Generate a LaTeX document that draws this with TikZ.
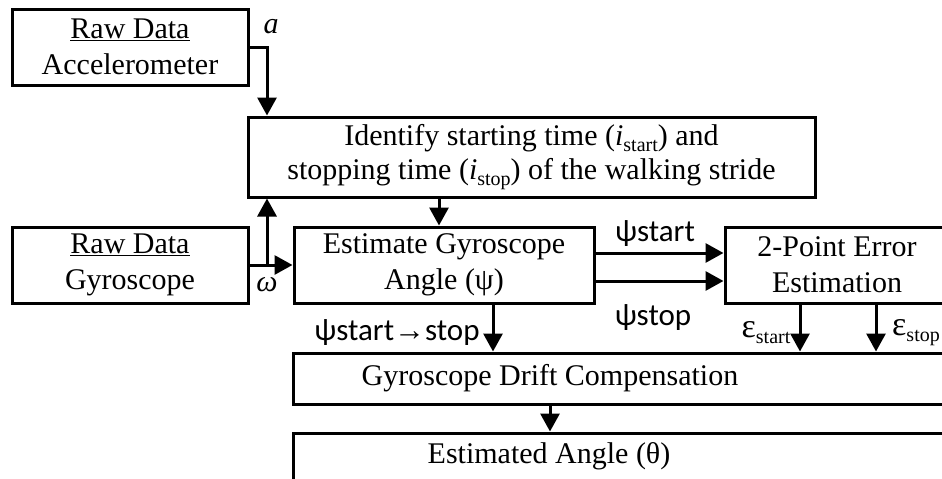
\documentclass[tikz,border=0pt]{standalone}
\usepackage{fontspec}
\setmainfont{Liberation Serif}
\newfontfamily\calib{Carlito}
\usetikzlibrary{arrows.meta,calc}
\newcommand{\lowsub}[1]{\raisebox{-6pt}{\fontsize{20}{20}\selectfont #1}}
\newcommand{\epsbig}{{\fontsize{34}{34}\selectfont ε}}

\begin{document}
\begin{tikzpicture}[x=1pt,y=-1pt,
  line width=3pt,
  >={Triangle[length=18pt,width=19pt]},
  box/.style={draw,line width=3pt,inner sep=0pt,align=center,
    font=\fontsize{30}{36}\selectfont},
  lbl/.style={inner sep=0pt,font=\fontsize{30}{36}\selectfont},
  plbl/.style={inner sep=0pt,font=\calib\fontsize{31}{33}\selectfont}]

\useasboundingbox (0,0) rectangle (942,479);
\clip (0,0) rectangle (942,479);

% processing blocks
\node[box,minimum width=236pt,minimum height=76pt] (acc) at (130,47)
  {\underline{Raw Data}\\Accelerometer};
\node[box,minimum width=567pt,minimum height=80pt,
      font=\fontsize{30}{34}\selectfont] (ident) at (531.5,157)
  {Identify starting time (\textit{i}\lowsub{start}) and\\
   stopping time (\textit{i}\lowsub{stop}) of the walking stride};
\node[box,minimum width=236pt,minimum height=76pt] (gyro) at (130,265)
  {\underline{Raw Data}\\Gyroscope};
\node[box,minimum width=300pt,minimum height=76pt] (est) at (444,265)
  {Estimate Gyroscope\\Angle (ψ)};
\node[box,minimum width=224pt,minimum height=76pt] (two) at (837,265)
  {2-Point Error\\Estimation};
\node[box,minimum width=667pt,minimum height=51pt] (drift) at (626.5,378.5) {};
\node[lbl] (drifttxt) at (550,378) {Gyroscope Drift Compensation};
\node[box,minimum width=667pt,minimum height=47pt] (angle) at (626.5,456.5) {};
\node[lbl] (angletxt) at (549,456) {Estimated Angle (θ)};

% branch columns
\coordinate (ja) at (267,0);
\coordinate (jb) at (439,0);
\coordinate (jc) at (493,0);
\coordinate (jd) at (800,0);
\coordinate (je) at (876,0);
\coordinate (jf) at (550,0);

% connectors
\draw[->] (acc.east) -| (ja |- ident.north);
\draw[->] (gyro.east) -- (est.west);
\draw[->] (ja |- gyro.east) -- (ja |- ident.south);
\draw[->] (jb |- ident.south) -- (jb |- est.north);
\draw[->] ($(est.east)+(0,-12)$) -- ($(two.west)+(0,-12)$);
\draw[->] ($(est.east)+(0,16)$) -- ($(two.west)+(0,16)$);
\draw[->] (jc |- est.south) -- (jc |- drift.north);
\draw[->] (jd |- two.south) -- (jd |- drift.north);
\draw[->] (je |- two.south) -- (je |- drift.north);
\draw[->] (jf |- drift.south) -- (jf |- angle.north);

% signal labels
\node[lbl] (la) at (271,27) {\textit{a}};
\node[lbl] (lw) at (267,285) {\textit{ω}};
\node[plbl] (lpsa) at (655,234) {ψstart};
\node[plbl] (lpso) at (653,318) {ψstop};
\node[plbl] (lpss) at (397,333) {ψstart{\rmfamily →}stop};
\node[lbl] (lea) at (766,333) {\epsbig\lowsub{start}};
\node[lbl] (leo) at (916,333) {\epsbig\lowsub{stop}};
\end{tikzpicture}
\end{document}
